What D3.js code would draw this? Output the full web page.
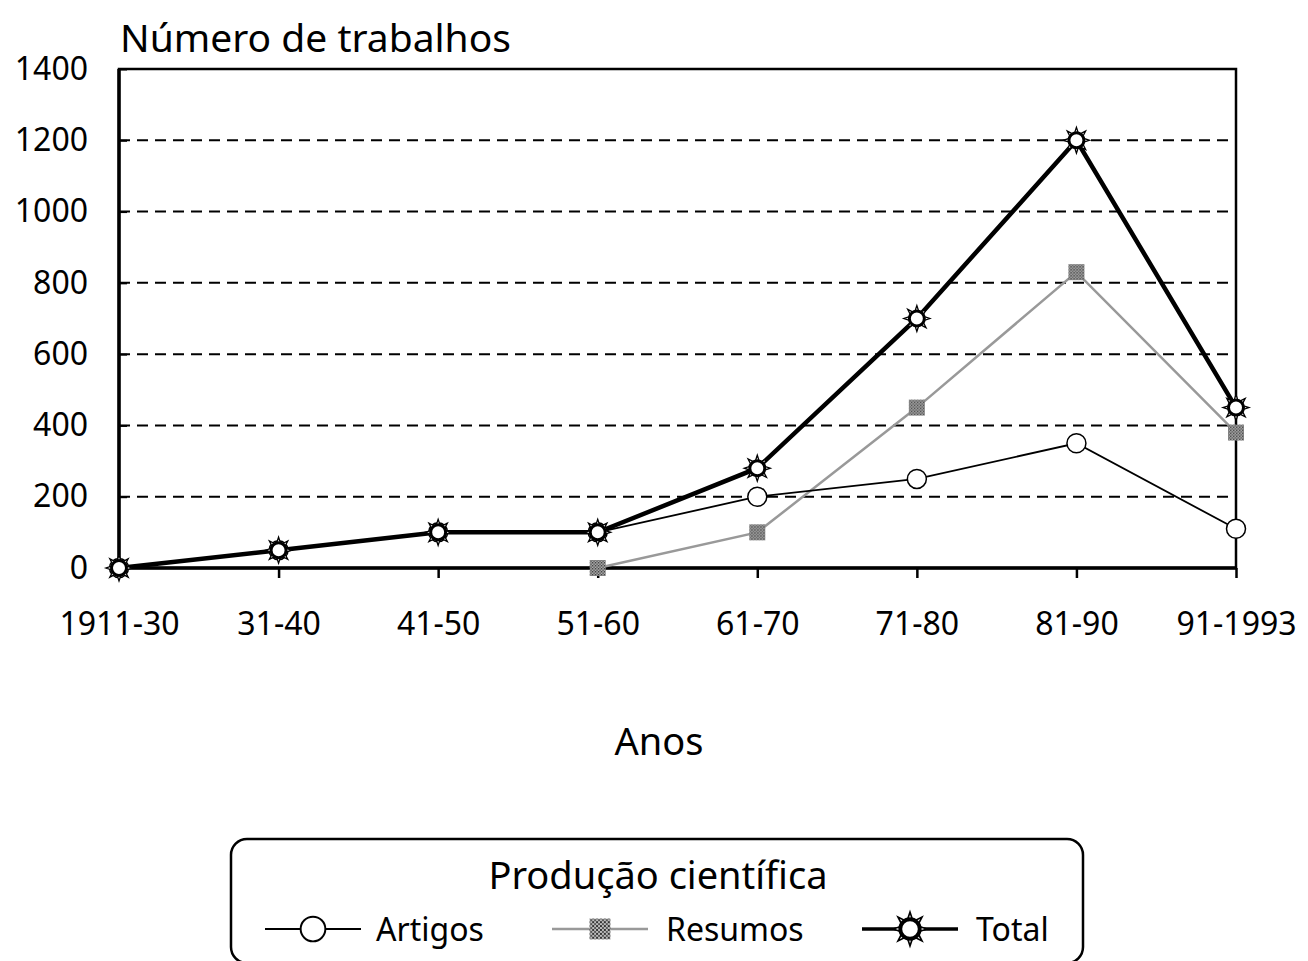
<!DOCTYPE html>
<html lang="pt">
<head>
<meta charset="UTF-8">
<title>Produção científica</title>
<script src="https://d3js.org/d3.v7.min.js"></script>
<style>
  body { margin: 0; background: #fff; }
  svg text { font-family: 'Noto Sans', 'DejaVu Sans', sans-serif; fill: #000; }
</style>
</head>
<body>
<svg width="1308" height="961"></svg>
<script>
const categories = ["1911-30", "31-40", "41-50", "51-60", "61-70", "71-80", "81-90", "91-1993"];
const artigos = [0, 50, 100, 100, 200, 250, 350, 110];
const resumos = [null, null, null, 0, 100, 450, 830, 380];
const total = [0, 50, 100, 100, 280, 700, 1200, 450];
const yTicks = [0, 200, 400, 600, 800, 1000, 1200, 1400];

const svg = d3.select("svg");
const plotLeft = 119, plotRight = 1236, plotTop = 69, plotBottom = 568;

const x = d3.scalePoint().domain(categories).range([plotLeft, plotRight]);
const y = d3.scaleLinear().domain([0, 1400]).range([plotBottom, plotTop]);

// texture for the Resumos squares
const defs = svg.append("defs");
const pat = defs.append("pattern").attr("id", "grain")
  .attr("width", 3).attr("height", 3).attr("patternUnits", "userSpaceOnUse");
pat.append("rect").attr("width", 3).attr("height", 3).attr("fill", "#bbb");
pat.append("rect").attr("width", 1.5).attr("height", 1.5).attr("fill", "#333");
pat.append("rect").attr("x", 1.5).attr("y", 1.5).attr("width", 1.5).attr("height", 1.5).attr("fill", "#555");

// dashed gridlines
svg.append("g").selectAll("line")
  .data(yTicks.filter(d => d > 0 && d < 1400))
  .enter().append("line")
  .attr("x1", plotLeft).attr("x2", plotRight)
  .attr("y1", d => y(d)).attr("y2", d => y(d))
  .attr("stroke", "#000").attr("stroke-width", 2)
  .attr("stroke-dasharray", "11,7");

// frame
svg.append("rect")
  .attr("x", plotLeft).attr("y", plotTop)
  .attr("width", plotRight - plotLeft).attr("height", plotBottom - plotTop)
  .attr("fill", "none").attr("stroke", "#000").attr("stroke-width", 2.5);
svg.append("line").attr("x1", plotLeft).attr("x2", plotRight)
  .attr("y1", plotBottom).attr("y2", plotBottom)
  .attr("stroke", "#000").attr("stroke-width", 3.5);
svg.append("line").attr("x1", plotLeft).attr("x2", plotLeft)
  .attr("y1", plotTop).attr("y2", plotBottom)
  .attr("stroke", "#000").attr("stroke-width", 3.5);

// y axis (short inward ticks)
const yAxis = svg.append("g")
  .attr("transform", `translate(${plotLeft},0)`)
  .call(d3.axisLeft(y).tickValues(yTicks).tickFormat(d3.format("d"))
    .tickSizeInner(-8).tickSizeOuter(0).tickPadding(31));
yAxis.select(".domain").remove();
yAxis.selectAll("line").attr("stroke-width", 2);
yAxis.selectAll("text").style("font-size", "32px");

// x axis
const xAxis = svg.append("g")
  .attr("transform", `translate(0,${plotBottom})`)
  .call(d3.axisBottom(x).tickSize(10).tickPadding(34));
xAxis.select(".domain").remove();
xAxis.selectAll("line").attr("stroke-width", 2.5);
xAxis.selectAll("text").style("font-size", "32px");

// titles
svg.append("text").attr("x", 120).attr("y", 52)
  .style("font-size", "39px").text("Número de trabalhos");
svg.append("text").attr("x", 659).attr("y", 755)
  .attr("text-anchor", "middle")
  .style("font-size", "38px").text("Anos");

// lines
const line = d3.line()
  .defined(d => d.v !== null)
  .x(d => x(d.c)).y(d => y(d.v));
const pts = arr => categories.map((c, i) => ({ c: c, v: arr[i] }));

svg.append("path").datum(pts(resumos))
  .attr("d", line).attr("fill", "none")
  .attr("stroke", "#999").attr("stroke-width", 2.5);
svg.append("path").datum(pts(artigos))
  .attr("d", line).attr("fill", "none")
  .attr("stroke", "#000").attr("stroke-width", 1.8);
svg.append("path").datum(pts(total))
  .attr("d", line).attr("fill", "none")
  .attr("stroke", "#000").attr("stroke-width", 4.5);

// marker drawers
function circleMark(g) {
  g.append("circle").attr("r", 9.5)
    .attr("fill", "#fff").attr("stroke", "#000").attr("stroke-width", 1.5);
}
function squareMark(g) {
  g.append("rect").attr("x", -8).attr("y", -8).attr("width", 16).attr("height", 16)
    .attr("fill", "url(#grain)");
}
function starMark(g) {
  const spikes = d3.range(8).map(i => {
    const a = i * Math.PI / 4;
    const a1 = a - 0.3, a2 = a + 0.3;
    return [[Math.cos(a1) * 7, Math.sin(a1) * 7],
            [Math.cos(a) * 13, Math.sin(a) * 13],
            [Math.cos(a2) * 7, Math.sin(a2) * 7]];
  });
  g.selectAll("path.spike").data(spikes).enter().append("path")
    .attr("class", "spike")
    .attr("d", d => "M" + d.join("L") + "Z")
    .attr("fill", "#fff").attr("stroke", "#000").attr("stroke-width", 1.3);
  g.append("circle").attr("r", 7.5)
    .attr("fill", "#fff").attr("stroke", "#000").attr("stroke-width", 3);
}

function drawMarks(arr, fn) {
  svg.append("g").selectAll("g")
    .data(pts(arr).filter(d => d.v !== null))
    .enter().append("g")
    .attr("transform", d => `translate(${x(d.c)},${y(d.v)})`)
    .each(function () { fn(d3.select(this)); });
}
drawMarks(artigos, circleMark);
drawMarks(resumos, squareMark);
drawMarks(total, starMark);

// legend
const lg = svg.append("g");
lg.append("rect")
  .attr("x", 231).attr("y", 839).attr("width", 852).attr("height", 124)
  .attr("rx", 16).attr("fill", "#fff").attr("stroke", "#000").attr("stroke-width", 2.5);
lg.append("text").attr("x", 658).attr("y", 889)
  .attr("text-anchor", "middle").style("font-size", "38px")
  .text("Produção científica");

const legendItems = [
  { name: "Artigos", cx: 313, stroke: "#000", w: 1.8, mark: circleMark, tx: 376 },
  { name: "Resumos", cx: 600, stroke: "#999", w: 2.5, mark: squareMark, tx: 666 },
  { name: "Total", cx: 910, stroke: "#000", w: 3.5, mark: starMark, tx: 976 }
];
legendItems.forEach(it => {
  const g = lg.append("g");
  g.append("line").attr("x1", it.cx - 48).attr("x2", it.cx + 48)
    .attr("y1", 929).attr("y2", 929)
    .attr("stroke", it.stroke).attr("stroke-width", it.w);
  const m = g.append("g").attr("transform", `translate(${it.cx},929) scale(1.3)`);
  it.mark(m);
  g.append("text").attr("x", it.tx).attr("y", 941)
    .style("font-size", "32px").text(it.name);
});
</script>
</body>
</html>
